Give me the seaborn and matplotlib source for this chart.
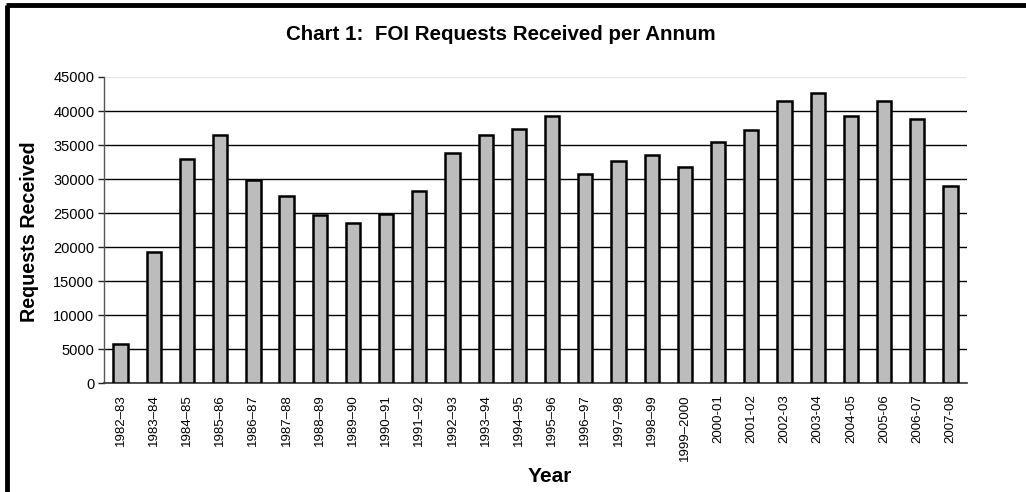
import matplotlib
matplotlib.use("Agg")
import matplotlib.pyplot as plt
import seaborn as sns
import pandas as pd
import numpy as np
from matplotlib.lines import Line2D

years = ["1982–83", "1983–84", "1984–85", "1985–86", "1986–87", "1987–88",
         "1988–89", "1989–90", "1990–91", "1991–92", "1992–93", "1993–94",
         "1994–95", "1995–96", "1996–97", "1997–98", "1998–99", "1999–2000",
         "2000-01", "2001-02", "2002-03", "2003-04", "2004-05", "2005-06",
         "2006-07", "2007-08"]
requests = [5700, 19300, 33000, 36500, 29900, 27450, 24700, 23500, 24900,
            28200, 33800, 36500, 37350, 39300, 30800, 32600, 33500, 31800,
            35400, 37200, 41500, 42600, 39300, 41400, 38800, 29000]
y_ticks = [0, 5000, 10000, 15000, 20000, 25000, 30000, 35000, 40000, 45000]

sns.set_style("white")
plt.rcParams['font.family'] = ['Liberation Sans', 'DejaVu Sans']
plt.rcParams['text.color'] = 'black'
plt.rcParams['axes.labelcolor'] = 'black'
plt.rcParams['xtick.color'] = 'black'
plt.rcParams['ytick.color'] = 'black'

df = pd.DataFrame({"Year": years, "Requests": requests})

fig = plt.figure(figsize=(10.26, 4.92), dpi=100)
ax = fig.add_axes([0.1014, 0.2215, 0.9425 - 0.1014, 0.8435 - 0.2215])

sns.barplot(data=df, x="Year", y="Requests", ax=ax, width=0.43,
            color="#bcbcbc", saturation=1, edgecolor="black", linewidth=1.8,
            zorder=3)

ax.set_xlim(-0.5, len(years) - 0.5)
ax.set_ylim(0, 45000)
ax.set_yticks(y_ticks)
ax.set_yticklabels([str(v) for v in y_ticks], fontsize=10.5)
ax.set_xticks(range(len(years)))
ax.set_xticklabels(years, rotation=90, fontsize=9.5)
ax.set_xticks(np.arange(-0.5, len(years)), minor=True)
ax.tick_params(axis='x', which='major', length=0, pad=8)
ax.tick_params(axis='x', which='minor', length=8, direction='inout', width=1, color='#222222')
ax.tick_params(axis='y', which='major', length=4, direction='out', width=1, color='#222222', left=True, pad=3)

ax.grid(axis='y', color='black', linewidth=1, zorder=0)
ax.set_axisbelow(True)
gls = ax.get_ygridlines()
gls[-1].set_color('#e6e6e6')

for s in ['top', 'right']:
    ax.spines[s].set_visible(False)
ax.spines['left'].set_color('#555555')
ax.spines['bottom'].set_color('#333333')
ax.spines['left'].set_linewidth(1)
ax.spines['bottom'].set_linewidth(1.2)

ax.set_xlabel("Year", fontsize=15, fontweight='bold')
ax.xaxis.label.set_verticalalignment('center')
ax.xaxis.set_label_coords((549.5 - 104) / (967 - 104), -(476 - 383) / 306)
ax.set_ylabel("Requests Received", fontsize=14.2, fontweight='bold')
ax.yaxis.label.set_verticalalignment('center')
ax.yaxis.set_label_coords(-(104 - 29) / (967 - 104), (383 - 232) / 306)

fig.text(0.488, 1 - 34 / 492, "Chart 1:  FOI Requests Received per Annum",
         ha='center', va='center', fontsize=14.8, fontweight='bold')

# outer frame (top and left edges)
fig.add_artist(Line2D([7 / 1026, 7 / 1026], [0, 1 - 5 / 492], transform=fig.transFigure,
                      color='black', linewidth=3.5, solid_capstyle='butt'))
fig.add_artist(Line2D([5.5 / 1026, 1], [1 - 5 / 492, 1 - 5 / 492], transform=fig.transFigure,
                      color='black', linewidth=3.5, solid_capstyle='butt'))

fig.savefig("out.png", dpi=100)
